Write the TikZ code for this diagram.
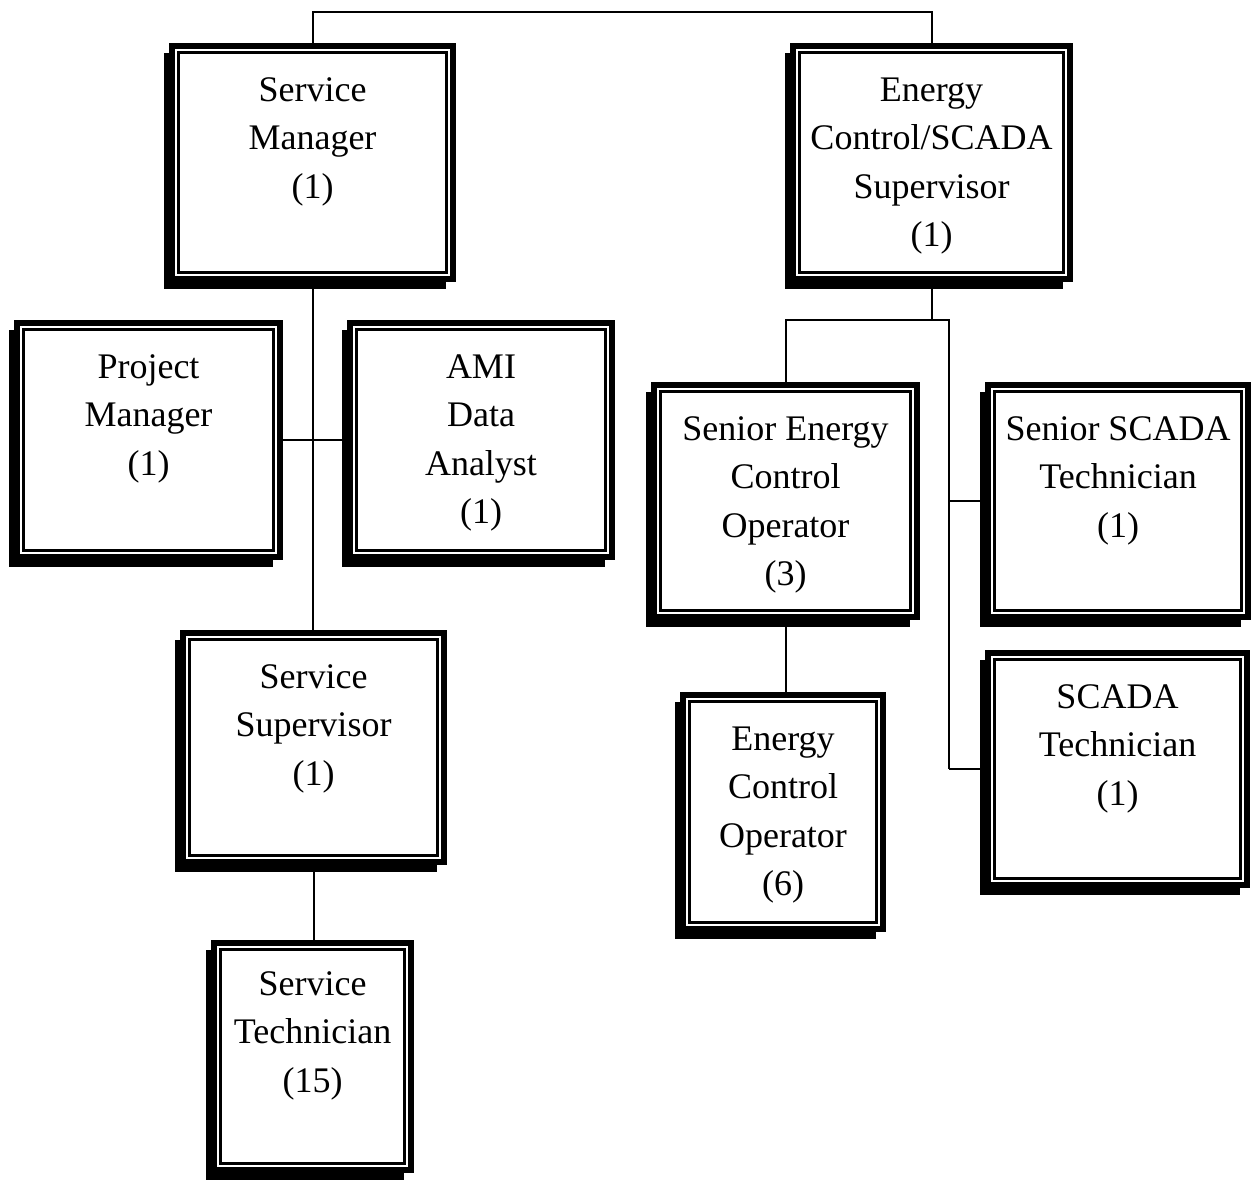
\documentclass[tikz,border=0pt]{standalone}
\usepackage{fontspec}
\setmainfont{Liberation Serif}
\usetikzlibrary{backgrounds}
\begin{document}
\begin{tikzpicture}[x=1pt,y=-1pt,
  orgbox/.style n args={2}{draw, line width=6pt, fill=white, inner sep=0pt,
    minimum width=#1pt-6pt, minimum height=#2pt-6pt,
    path picture={\draw[line width=2.5pt]
      ([shift={(6.65pt,-6.65pt)}]path picture bounding box.north west) rectangle
      ([shift={(-6.65pt,6.65pt)}]path picture bounding box.south east);}},
  lbl/.style={align=center, inner sep=0pt, anchor=north,
    font=\fontsize{36}{48.5}\selectfont},
  conn/.style={line width=2pt}]
\useasboundingbox (0,0) rectangle (1253,1179);

% boxes
\node[orgbox={287}{239}] (sm)   at (312.5,162.5) {};
\node[orgbox={283}{239}] (ec)   at (931.5,162.5) {};
\node[orgbox={269}{240}] (pm)   at (148.5,440) {};
\node[orgbox={268}{240}] (ami)  at (481,440) {};
\node[orgbox={267}{235}] (ss)   at (313.5,747.5) {};
\node[orgbox={203}{233}] (st)   at (312.5,1056.5) {};
\node[orgbox={269}{238}] (seco) at (785.5,501) {};
\node[orgbox={206}{240}] (eco)  at (783,812) {};
\node[orgbox={266}{238}] (sst)  at (1118,501) {};
\node[orgbox={265}{238}] (sct)  at (1117.5,769) {};

% texts
\node[lbl] (sm-t)   at ([shift={(0,28)}]sm.north)   {\rule{0pt}{30pt}Service\\Manager\\(1)};
\node[lbl] (ec-t)   at ([shift={(0,28)}]ec.north)   {\rule{0pt}{30pt}Energy\\Control/SCADA\\Supervisor\\(1)};
\node[lbl] (pm-t)   at ([shift={(0,28)}]pm.north)   {\rule{0pt}{30pt}Project\\Manager\\(1)};
\node[lbl] (ami-t)  at ([shift={(0,28)}]ami.north)  {\rule{0pt}{30pt}AMI\\Data\\Analyst\\(1)};
\node[lbl] (ss-t)   at ([shift={(0,28)}]ss.north)   {\rule{0pt}{30pt}Service\\Supervisor\\(1)};
\node[lbl] (st-t)   at ([shift={(0,25)}]st.north)   {\rule{0pt}{30pt}Service\\Technician\\(15)};
\node[lbl] (seco-t) at ([shift={(0,28)}]seco.north) {\rule{0pt}{30pt}Senior Energy\\Control\\Operator\\(3)};
\node[lbl] (eco-t)  at ([shift={(0,28)}]eco.north)  {\rule{0pt}{30pt}Energy\\Control\\Operator\\(6)};
\node[lbl] (sst-t)  at ([shift={(0,28)}]sst.north)  {\rule{0pt}{30pt}Senior SCADA\\Technician\\(1)};
\node[lbl] (sct-t)  at ([shift={(0,28)}]sct.north)  {\rule{0pt}{30pt}SCADA\\Technician\\(1)};

% connectors
\coordinate (tl) at (312.5,12);
\draw[conn] (sm.north) -- (tl) -| (ec.north);
\draw[conn] (sm.south) -- (sm.south |- ss.north);
\draw[conn] (pm.east) -- (ami.west);
\draw[conn] (ss.south) -- (ss.south |- st.north);
\coordinate (ej)  at (931.5,320);
\coordinate (eh1) at (785.5,320);
\coordinate (eh2) at (949,320);
\draw[conn] (ec.south) -- (ej);
\draw[conn] (seco.north) -- (eh1) -- (eh2) -- (eh2 |- sct.west);
\draw[conn] (eh2 |- sst.west) -- (sst.west);
\draw[conn] (eh2 |- sct.west) -- (sct.west);
\draw[conn] (seco.south) -- (seco.south |- eco.north);

% shadows and background
\begin{scope}[on background layer]
\fill[white] (0,0) rectangle (1253,1179);
\foreach \n in {sm,ec,pm,ami,ss,st,seco,eco,sst,sct}
  \fill[black] ([shift={(-5,10)}]\n.north west) rectangle ([shift={(-10,7)}]\n.south east);
\end{scope}
\end{tikzpicture}
\end{document}
